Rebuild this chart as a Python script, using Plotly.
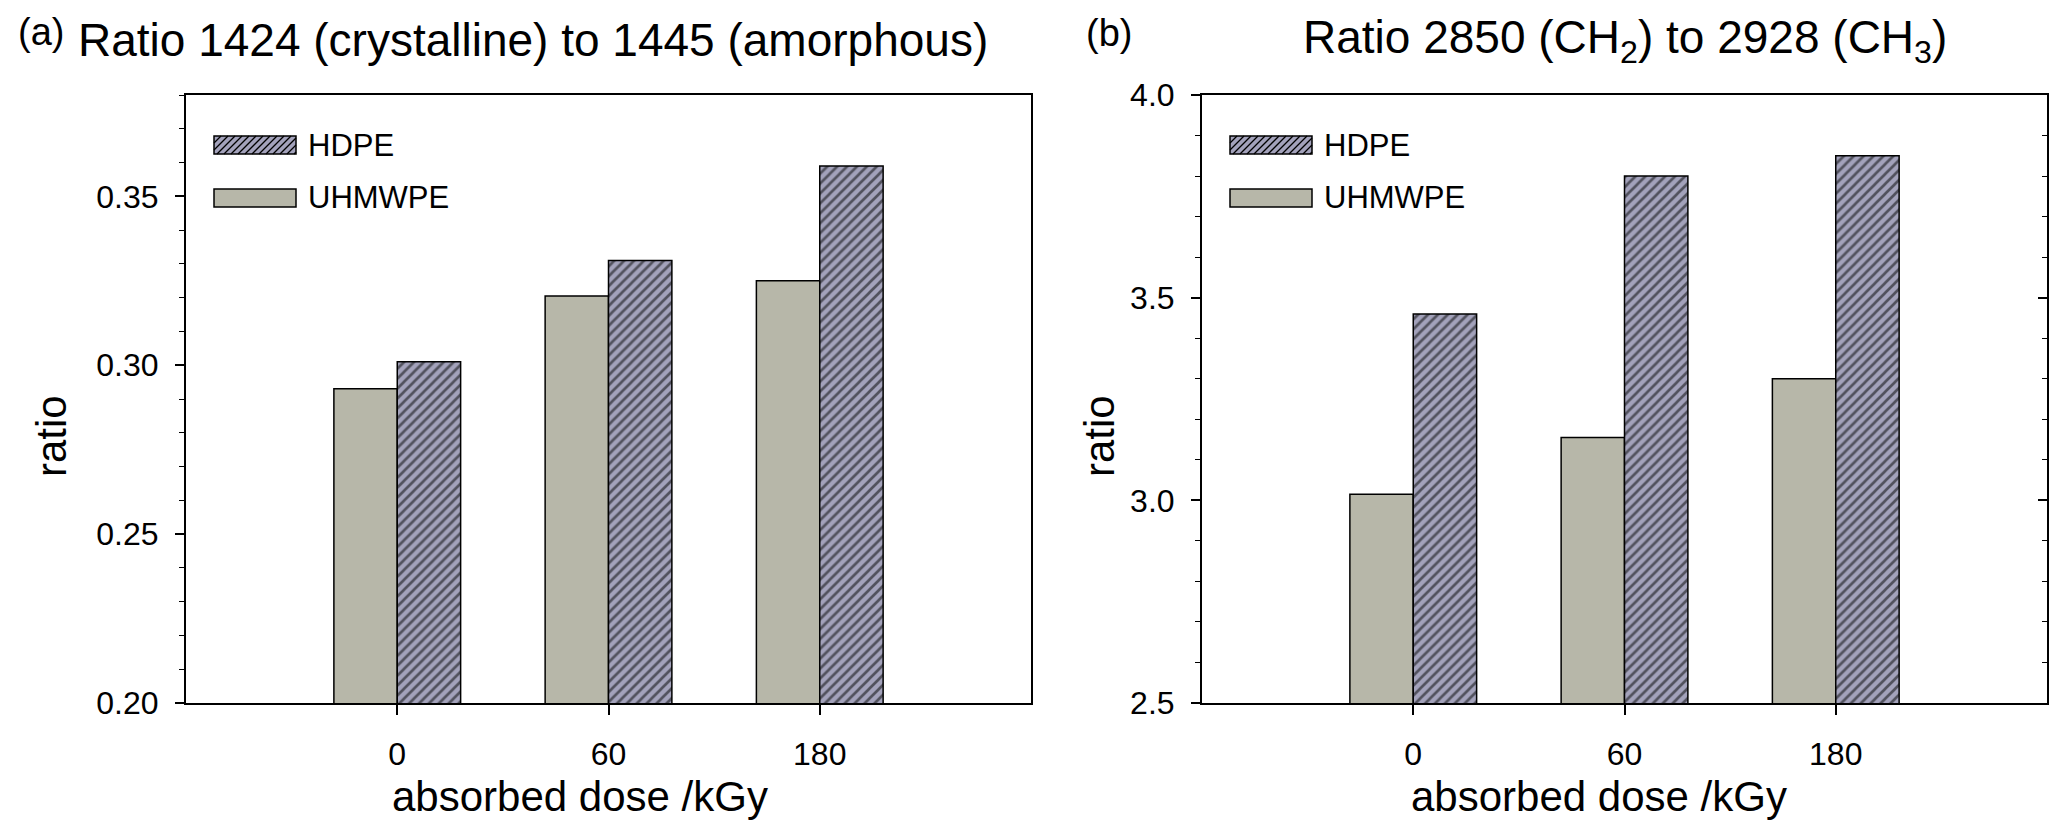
import plotly.graph_objects as go

# ---------------- data ----------------
doses = ["0", "60", "180"]
series_names = ["HDPE", "UHMWPE"]
a_hdpe = [0.301, 0.331, 0.359]
a_uhmwpe = [0.293, 0.3205, 0.325]
b_hdpe = [3.46, 3.80, 3.85]
b_uhmwpe = [3.015, 3.155, 3.30]

title_a = "Ratio 1424 (crystalline) to 1445 (amorphous)"
title_b = "Ratio 2850 (CH<sub>2</sub>) to 2928 (CH<sub>3</sub>)"
x_title = "absorbed dose /kGy"
y_title = "ratio"

# ---------------- style ----------------
W, H = 2067, 832
FONT = "Liberation Sans, Arial, sans-serif"
UH_COLOR = "#b7b7a9"
HD_COLOR = "#a3a2bb"
HATCH_STEP = 7


def fx(px):
    return px / W


def fy(py):
    return 1 - py / H


fig = go.Figure()

hd_marker = dict(color=HD_COLOR,
                 pattern=dict(shape="/", fgcolor="black", size=HATCH_STEP, solidity=0.38),
                 line=dict(color="black", width=1.5))
uh_marker = dict(color=UH_COLOR, line=dict(color="black", width=1.5))

# panel (a)
fig.add_trace(go.Bar(x=doses, y=a_uhmwpe, name=series_names[1], xaxis="x", yaxis="y",
                     marker=uh_marker, showlegend=False))
fig.add_trace(go.Bar(x=doses, y=a_hdpe, name=series_names[0], xaxis="x", yaxis="y",
                     marker=hd_marker, showlegend=False))
# panel (b)
fig.add_trace(go.Bar(x=doses, y=b_uhmwpe, name=series_names[1], xaxis="x2", yaxis="y2",
                     marker=uh_marker, showlegend=False))
fig.add_trace(go.Bar(x=doses, y=b_hdpe, name=series_names[0], xaxis="x2", yaxis="y2",
                     marker=hd_marker, showlegend=False))
# empty trace for the right-hand inward tick axis of panel (b)
fig.add_trace(go.Scatter(x=[], y=[], xaxis="x2", yaxis="y3", showlegend=False,
                         hoverinfo="skip"))

tickfont = dict(family=FONT, size=32, color="black")

xcommon = dict(type="category", range=[-1, 3], showline=True, linecolor="black", linewidth=2,
               mirror=True, ticks="outside", ticklen=10, tickwidth=1.5, tickcolor="black",
               showgrid=False, zeroline=False, tickfont=tickfont, ticklabelstandoff=12,
               automargin=False, fixedrange=True)

ycommon = dict(showline=True, linecolor="black", linewidth=2, mirror=True,
               ticks="outside", ticklen=9, tickwidth=1.5, tickcolor="black",
               showgrid=False, zeroline=False, tickfont=tickfont, ticklabelstandoff=10,
               automargin=False, fixedrange=True)

ya = dict(ycommon, domain=[fy(703), fy(95)], range=[0.20, 0.38], tick0=0.20, dtick=0.05,
          tickformat=".2f", anchor="x",
          minor=dict(dtick=0.01, tick0=0.20, ticks="outside", ticklen=5, tickwidth=1.2,
                     tickcolor="black", showgrid=False))
yb = dict(ycommon, domain=[fy(703), fy(95)], range=[2.5, 4.0], tick0=2.5, dtick=0.5,
          tickformat=".1f", anchor="x2",
          minor=dict(dtick=0.1, tick0=2.5, ticks="outside", ticklen=5, tickwidth=1.2,
                     tickcolor="black", showgrid=False))
yb_right = dict(overlaying="y2", side="right", anchor="x2", range=[2.5, 4.0], tick0=2.5,
                dtick=0.5, ticks="inside", ticklen=9, tickwidth=1.5, tickcolor="black",
                showticklabels=False, showline=False, showgrid=False, zeroline=False,
                automargin=False, fixedrange=True,
                minor=dict(dtick=0.1, tick0=2.5, ticks="inside", ticklen=5, tickwidth=1.2,
                           tickcolor="black", showgrid=False))

# ---------------- legend (drawn as swatches + text) ----------------
legend_origins = [214, 1230]          # swatch left edge (px) for each panel
SW_W, SW_H = 82, 18
LEG_ROWS = [(series_names[0], 136, True), (series_names[1], 189, False)]
TEXT_GAP = 10

shapes = []
annotations = []


def hatch_path(x0, y0, x1, y1, step):
    h = y1 - y0
    parts = []
    u = x0 - h
    while u < x1:
        sx, sy = u, y1
        ex, ey = u + h, y0
        if sx < x0:
            sy = y1 - (x0 - sx)
            sx = x0
        if ex > x1:
            ey = y0 + (ex - x1)
            ex = x1
        if ex > sx:
            parts.append(f"M{fx(sx):.5f},{fy(sy):.5f}L{fx(ex):.5f},{fy(ey):.5f}")
        u += step
    return "".join(parts)


for lx in legend_origins:
    for name, top, hatched in LEG_ROWS:
        x0, x1 = lx, lx + SW_W
        y0, y1 = top, top + SW_H
        shapes.append(dict(type="rect", xref="paper", yref="paper",
                           x0=fx(x0), x1=fx(x1), y0=fy(y1), y1=fy(y0),
                           fillcolor=HD_COLOR if hatched else UH_COLOR,
                           line=dict(width=0)))
        if hatched:
            shapes.append(dict(type="path", xref="paper", yref="paper",
                               path=hatch_path(x0, y0, x1, y1, HATCH_STEP),
                               line=dict(color="black", width=1.3)))
        shapes.append(dict(type="rect", xref="paper", yref="paper",
                           x0=fx(x0), x1=fx(x1), y0=fy(y1), y1=fy(y0),
                           fillcolor="rgba(0,0,0,0)",
                           line=dict(color="black", width=1.5)))
        annotations.append(dict(text=name, x=fx(x1 + TEXT_GAP), y=fy(top + SW_H / 2),
                                xanchor="left", yanchor="middle",
                                font=dict(family=FONT, size=31, color="black")))

annotations += [
    dict(text="(a)", x=fx(16), y=fy(32), xanchor="left", yanchor="middle",
         font=dict(family=FONT, size=38, color="black")),
    dict(text=title_a, x=fx(76), y=fy(40), xanchor="left", yanchor="middle",
         font=dict(family=FONT, size=46, color="black")),
    dict(text="(b)", x=fx(1084), y=fy(33), xanchor="left", yanchor="middle",
         font=dict(family=FONT, size=38, color="black")),
    dict(text=title_b, x=fx(1625), y=fy(40), xanchor="center", yanchor="middle",
         font=dict(family=FONT, size=46, color="black")),
    dict(text=x_title, x=fx(580), y=fy(796), xanchor="center", yanchor="middle",
         font=dict(family=FONT, size=42, color="black")),
    dict(text=x_title, x=fx(1599), y=fy(796), xanchor="center", yanchor="middle",
         font=dict(family=FONT, size=42, color="black")),
    dict(text=y_title, x=fx(51), y=fy(436), xanchor="center", yanchor="middle", textangle=-90,
         font=dict(family=FONT, size=42, color="black")),
    dict(text=y_title, x=fx(1099), y=fy(436), xanchor="center", yanchor="middle", textangle=-90,
         font=dict(family=FONT, size=42, color="black")),
]
for an in annotations:
    an.update(xref="paper", yref="paper", showarrow=False)

fig.update_layout(
    width=W, height=H,
    margin=dict(l=0, r=0, t=0, b=0),
    paper_bgcolor="white", plot_bgcolor="white",
    font=dict(family=FONT, color="black"),
    barmode="group", bargap=0.40, bargroupgap=0,
    xaxis=dict(xcommon, domain=[fx(186), fx(1031)], anchor="y"),
    xaxis2=dict(xcommon, domain=[fx(1202), fx(2047)], anchor="y2"),
    yaxis=ya, yaxis2=yb, yaxis3=yb_right,
    shapes=shapes,
    annotations=annotations,
    showlegend=False,
)

fig.write_html("out.html",
               post_script="document.body.style.margin='0';document.body.style.overflow='hidden';",
               config={"displayModeBar": False})
